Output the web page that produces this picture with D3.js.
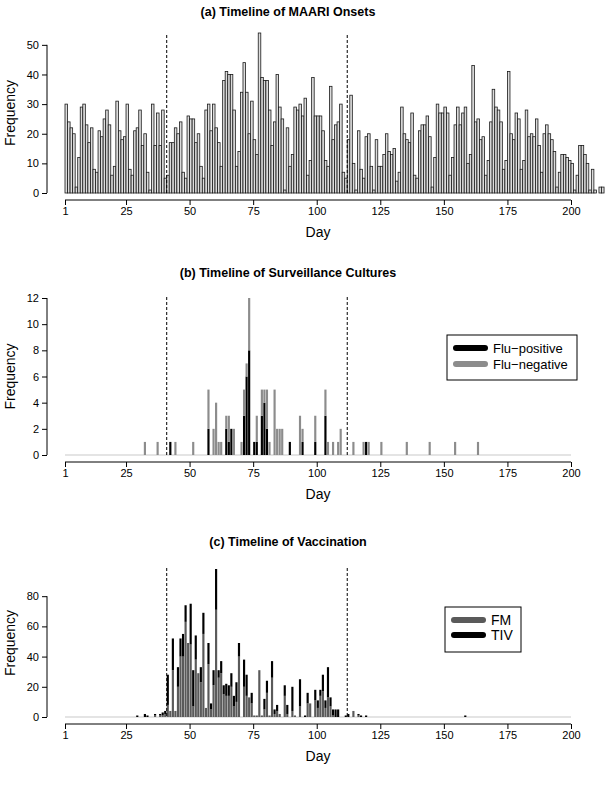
<!DOCTYPE html>
<html><head><meta charset="utf-8">
<script src="https://cdn.jsdelivr.net/npm/d3@7"></script>
<style>body{margin:0;background:#fff} svg{display:block} text{font-family:"Liberation Sans",Arial,Helvetica,sans-serif}</style>
</head><body><svg id="chart" width="607" height="786"></svg>
<script>
// (a) MAARI onsets per day, day 1..212
const maariCounts = [30,24,22,20,2,12,29,30,23,17,22,8,7,21,19,25,28,23,6,9,31,21,18,19,30,8,6,21,22,28,16,20,7,1,30,16,27,16,28,5,6,
17,17,22,20,24,7,5,26,25,25,17,20,9,5,28,30,21,30,22,17,9,38,41,40,
40,28,9,14,34,44,34,20,31,18,13,54,39,38,38,28,16,24,40,
29,25,1,22,9,13,29,28,30,26,32,6,11,39,26,26,26,21,11,9,36,18,23,24,30,7,5,18,33,10,1,21,8,5,19,20,9,1,18,9,9,13,20,
14,13,15,4,7,29,20,18,17,27,6,5,21,23,23,26,19,2,12,30,27,27,29,27,6,12,23,29,23,27,29,10,13,43,24,25,18,19,6,11,24,
35,29,28,24,8,11,41,20,18,27,25,8,11,28,19,20,19,25,16,7,20,23,20,18,14,2,7,13,13,12,11,10,1,6,16,16,13,10,1,8,1,0,2,2];

// (b) surveillance cultures
const cultureDays  = [32,37,42,44,51,57,59,60,61,62,64,65,66,67,70,71,72,73,75,76,78,79,80,81,83,84,85,86,89,93,94,99,103,104,106,108,109,114,118,119,120,125,135,144,154,163];
const fluPositive  = [0,0,1,0,0,2,0,0,0,0,2,1,2,0,0,3,6,8,1,1,3,4,2,0,0,0,0,0,1,0,1,1,3,0,0,0,0,0,0,1,0,0,0,0,0,0];
const fluNegative  = [1,1,0,1,1,3,2,4,1,1,1,2,0,2,1,2,1,4,0,2,2,1,3,1,5,2,2,2,0,3,1,2,2,1,1,1,2,1,1,0,1,1,1,1,1,1];

// (c) vaccinations
const vaxDays = [29,32,33,36,38,39,40,41,42,43,44,45,46,47,48,49,50,51,52,53,54,55,56,57,58,59,60,61,62,63,64,65,66,67,68,69,71,72,73,74,75,76,77,78,79,80,81,82,83,84,85,87,88,90,91,93,95,96,97,99,100,101,102,103,104,105,106,107,108,111,112,114,116,117,119,158];
const vaxFM   = [0,0,0,1,1,1,2,8,4,31,4,20,40,40,63,49,48,7,38,29,23,55,6,35,5,21,71,26,29,15,14,14,20,7,10,40,20,14,13,9,1,1,31,1,5,16,1,26,2,4,2,14,2,4,1,7,0,9,9,11,6,14,17,6,13,7,1,0,0,0,0,4,1,0,0,0];
const vaxTIV  = [1,2,1,1,1,2,2,20,0,21,0,13,12,15,11,0,27,24,16,0,10,14,0,14,4,10,27,5,8,6,8,7,9,7,13,9,18,14,0,7,0,0,0,0,7,8,0,11,3,4,0,7,6,16,0,18,1,7,0,7,5,4,11,5,20,6,4,5,5,1,2,0,1,1,1,1];

const xTickValues = [1,25,50,75,100,125,150,175,200];
const vaccinePeriod = [41,112];

const svg = d3.select("#chart");
const font = '"Liberation Sans",Arial,Helvetica,sans-serif';
const x = d3.scaleLinear().domain([1,200]).range([65,571]);
const step = x(2)-x(1);

function frame(o){
  const g = svg.append("g");
  const y = d3.scaleLinear().domain([0,o.ymax]).range([o.base,o.top]);
  g.append("text").attr("x",o.titleX).attr("y",o.titleY).attr("text-anchor","middle")
    .attr("font-weight","bold").attr("font-size",12.5).text(o.title);
  const ya = g.append("g").attr("transform",`translate(${o.axisX},0)`)
    .call(d3.axisLeft(y).tickValues(o.yTicks).tickSize(5).tickPadding(3).tickFormat(d3.format("d")));
  ya.select(".domain").attr("d",`M0,${y(o.yTicks[0])}V${y(o.yTicks[o.yTicks.length-1])}`).attr("stroke","#000");
  ya.selectAll("text").attr("font-size",11).attr("font-family",font).attr("fill","#000");
  ya.selectAll("line").attr("stroke","#000");
  const xa = g.append("g").attr("transform",`translate(0,${o.xAxisY})`)
    .call(d3.axisBottom(x).tickValues(xTickValues).tickSize(5).tickPadding(2).tickFormat(d3.format("d")));
  xa.select(".domain").attr("d",`M${x(1)},0H${x(200)}`).attr("stroke","#000");
  xa.selectAll("text").attr("font-size",11).attr("font-family",font).attr("fill","#000");
  xa.selectAll("line").attr("stroke","#000");
  g.append("text").attr("x",318).attr("y",o.dayY).attr("text-anchor","middle").attr("font-size",14).text("Day");
  g.append("text").attr("transform",`translate(${o.freqX},${(o.base+o.top)/2}) rotate(-90)`)
    .attr("text-anchor","middle").attr("font-size",14).text("Frequency");
  return {g,y};
}

function dashed(g,o){
  vaccinePeriod.forEach(d=>{
    g.append("line").attr("x1",x(d)).attr("x2",x(d)).attr("y1",o.dashTop).attr("y2",o.base)
      .attr("stroke","#000").attr("stroke-width",1).attr("stroke-dasharray","3,2");
  });
}

function legend(g, tx, ty, w, h, items, gap, fs){
  const lg = g.append("g").attr("transform",`translate(${tx},${ty})`);
  lg.append("rect").attr("width",w).attr("height",h).attr("fill","#fff").attr("stroke","#000");
  items.forEach((e,i)=>{
    const yy = 13 + i*gap;
    lg.append("line").attr("x1",9).attr("x2",38).attr("y1",yy).attr("y2",yy)
      .attr("stroke",e[1]).attr("stroke-width",6).attr("stroke-linecap","round");
    lg.append("text").attr("x",46).attr("y",yy+4.5).attr("font-size",fs).text(e[0]);
  });
}

// Panel (a)
{
  const o = {title:"(a) Timeline of MAARI Onsets", titleX:288, titleY:16, ymax:54, base:193, top:33,
    axisX:47, yTicks:[0,10,20,30,40,50], xAxisY:200, dayY:237, freqX:15, dashTop:35};
  const {g,y} = frame(o);
  g.selectAll("rect.bar").data(maariCounts).join("rect")
    .attr("x",(v,i)=>x(i+1)).attr("width",step).attr("y",v=>y(v)).attr("height",v=>y(0)-y(v))
    .attr("fill","#dcdcdc").attr("stroke","#1a1a1a").attr("stroke-width",0.8);
  dashed(g,o);
}

// Panel (b)
{
  const o = {title:"(b) Timeline of Surveillance Cultures", titleX:288, titleY:277, ymax:12, base:455, top:298,
    axisX:47, yTicks:[0,2,4,6,8,10,12], xAxisY:462, dayY:499, freqX:15, dashTop:297};
  const {g,y} = frame(o);
  g.append("line").attr("x1",x(1)).attr("x2",x(200)).attr("y1",o.base).attr("y2",o.base).attr("stroke","#bbb").attr("stroke-width",0.8);
  const bw = step*0.85;
  const rows = cultureDays.map((d,i)=>({d,pos:fluPositive[i],neg:fluNegative[i]}));
  g.selectAll("rect.pos").data(rows).join("rect")
    .attr("x",r=>x(r.d)).attr("width",bw).attr("y",r=>y(r.pos)).attr("height",r=>y(0)-y(r.pos)).attr("fill","#000");
  g.selectAll("rect.neg").data(rows).join("rect")
    .attr("x",r=>x(r.d)).attr("width",bw).attr("y",r=>y(r.pos+r.neg)).attr("height",r=>y(r.pos)-y(r.pos+r.neg)).attr("fill","#8c8c8c");
  dashed(g,o);
  legend(g, 447, 335, 130, 45, [["Flu\u2212positive","#000"],["Flu\u2212negative","#8c8c8c"]], 16, 13);
}

// Panel (c)
{
  const o = {title:"(c) Timeline of Vaccination", titleX:288, titleY:546, ymax:98, base:717, top:569,
    axisX:47, yTicks:[0,20,40,60,80], xAxisY:724, dayY:761, freqX:15, dashTop:568};
  const {g,y} = frame(o);
  g.append("line").attr("x1",x(1)).attr("x2",x(200)).attr("y1",o.base).attr("y2",o.base).attr("stroke","#bbb").attr("stroke-width",0.8);
  const bw = step*0.85;
  const rows = vaxDays.map((d,i)=>({d,fm:vaxFM[i],tiv:vaxTIV[i]}));
  g.selectAll("rect.fm").data(rows).join("rect")
    .attr("x",r=>x(r.d)).attr("width",bw).attr("y",r=>y(r.fm)).attr("height",r=>y(0)-y(r.fm)).attr("fill","#5a5a5a");
  g.selectAll("rect.tiv").data(rows).join("rect")
    .attr("x",r=>x(r.d)).attr("width",bw).attr("y",r=>y(r.fm+r.tiv)).attr("height",r=>y(r.fm)-y(r.fm+r.tiv)).attr("fill","#000");
  dashed(g,o);
  legend(g, 445, 607, 76, 45, [["FM","#5a5a5a"],["TIV","#000"]], 15, 14);
}
</script></body></html>
